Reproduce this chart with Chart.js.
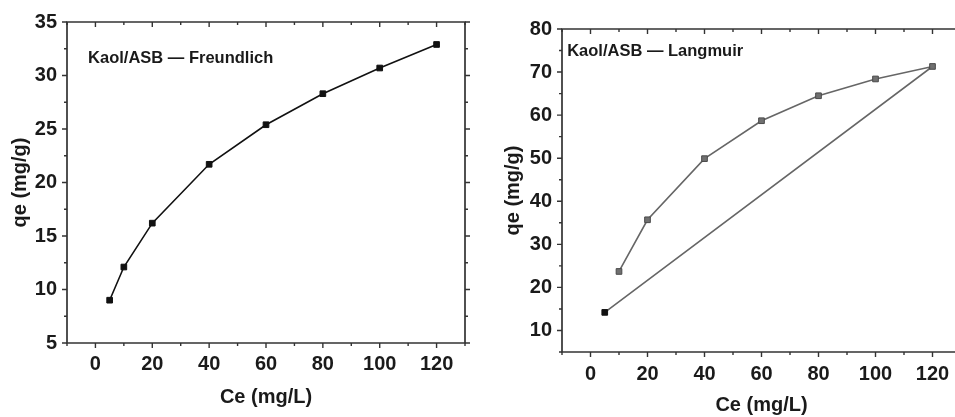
<!DOCTYPE html>
<html><head><meta charset="utf-8">
<script src="https://cdn.jsdelivr.net/npm/chart.js@4"></script>
<style>
html,body{margin:0;padding:0;background:#fff;overflow:hidden;width:955px;height:417px}
#c1{position:absolute;left:0;top:0}
#c2{position:absolute;left:480px;top:0}
</style></head><body>
<canvas id="c1" width="480" height="417"></canvas>
<canvas id="c2" width="500" height="417"></canvas>
<script>
// Freundlich panel
const freCe = [5,10,20,40,60,80,100,120];
const freQe = [9.0,12.1,16.2,21.7,25.4,28.3,30.7,32.9];
// Langmuir panel, kept in the order the original polyline runs (ends back at Ce=5)
const lanCe = [10,20,40,60,80,100,120,5];
const lanQe = [23.7,35.7,49.9,58.7,64.5,68.4,71.3,14.2];
// tick labels
const xTicks = [0,20,40,60,80,100,120];
const freTicks = [5,10,15,20,25,30,35];
const lanTicks = [10,20,30,40,50,60,70,80];

const FONT = "'Liberation Sans', Arial, sans-serif";
const INK = "#1a1a1a";

// frame round the plot + major/minor tick marks (Origin style)
const frame = {
  id:"frame",
  afterDraw(chart, args, o){
    const ctx = chart.ctx, a = chart.chartArea, x = chart.scales.x, y = chart.scales.y;
    ctx.save();
    ctx.strokeStyle = "#333"; ctx.lineWidth = 1.7; ctx.lineCap = "butt";
    ctx.beginPath();
    ctx.rect(a.left, a.top, a.right-a.left, a.bottom-a.top);
    ctx.stroke();
    ctx.lineWidth = 1.4;
    ctx.beginPath();
    for (let v=x.min; v<=x.max+1e-9; v+=o.xMinor) {
      let px = x.getPixelForValue(v);
      let len = (Math.abs(v % o.xMajor) < 1e-9) ? 5 : 3;
      ctx.moveTo(px, a.bottom); ctx.lineTo(px, a.bottom+len);
      ctx.moveTo(px, a.top); ctx.lineTo(px, a.top+len);
    }
    for (let v=y.min; v<=y.max+1e-9; v+=o.yMinor) {
      let py = y.getPixelForValue(v);
      let len = (Math.abs(v % o.yMajor) < 1e-9) ? 5 : 3;
      ctx.moveTo(a.left, py); ctx.lineTo(a.left-len, py);
      ctx.moveTo(a.right, py); ctx.lineTo(a.right+len, py);
    }
    ctx.stroke();
    // panel label
    ctx.fillStyle = INK;
    ctx.font = "bold "+o.size+"px "+FONT;
    ctx.textBaseline = "alphabetic"; ctx.textAlign = "left";
    ctx.fillText(o.text, x.getPixelForValue(o.tx), y.getPixelForValue(o.ty));
    ctx.restore();
  }
};

function makePanel(id, xs, ys, yTicks, ymin, ymax, style){
  let data = xs.map((v,i) => ({x:v, y:ys[i]}));
  return new Chart(document.getElementById(id), {
    type:"scatter",
    data:{ datasets:[{
      data:data, showLine:true, tension:0,
      borderColor:style.line, borderWidth:1.6,
      pointStyle:"rect", pointRadius:4, pointHoverRadius:4,
      pointBackgroundColor:style.fill, pointBorderColor:style.edge, pointBorderWidth:1
    }]},
    options:{
      responsive:false, animation:false, devicePixelRatio:1,
      layout:{ padding:{ top:style.top, right:style.right, left:0, bottom:0 } },
      scales:{
        x:{
          type:"linear", min:-10, max:130,
          afterBuildTicks: s => { s.ticks = xTicks.map(v => ({value:v})); },
          afterFit: s => { s.height = style.xh; },
          grid:{ display:false, drawTicks:false }, border:{ display:false },
          ticks:{ color:INK, font:{family:FONT, size:20, weight:"bold"}, padding:style.xpad, maxRotation:0, autoSkip:false },
          title:{ display:true, text:"Ce (mg/L)", color:INK, font:{family:FONT, size:20, weight:"bold"}, padding:{top:0, bottom:style.xtb} }
        },
        y:{
          type:"linear", min:ymin, max:ymax,
          afterBuildTicks: s => { s.ticks = yTicks.map(v => ({value:v})); },
          afterFit: s => { s.width = style.yw; },
          grid:{ display:false, drawTicks:false }, border:{ display:false },
          ticks:{ color:INK, font:{family:FONT, size:20, weight:"bold"}, padding:10, autoSkip:false },
          title:{ display:true, text:"qe (mg/g)", color:INK, font:{family:FONT, size:20, weight:"bold"}, padding:{top:style.ytp, bottom:0} }
        }
      },
      plugins:{
        legend:{ display:false }, tooltip:{ enabled:false },
        frame:{ xMinor:10, xMajor:20, yMinor:style.yMinor, yMajor:style.yMajor, text:style.label, tx:style.tx, ty:style.ty, size:16.5 }
      }
    },
    plugins:[frame]
  });
}

makePanel("c1", freCe, freQe, freTicks, 5, 35, {
  line:"#111", fill:"#111", edge:"#111",
  top:22, right:15, xh:74, yw:67, xpad:9, xtb:8, ytp:8,
  yMinor:2.5, yMajor:5, label:"Kaol/ASB \u2014 Freundlich", tx:-2.6, ty:31.2
});

makePanel("c2", lanCe, lanQe, lanTicks, 5, 80, {
  line:"#666", fill:["#707070","#707070","#707070","#707070","#707070","#707070","#707070","#111"],
  edge:["#4a4a4a","#4a4a4a","#4a4a4a","#4a4a4a","#4a4a4a","#4a4a4a","#4a4a4a","#111"],
  top:29, right:19, xh:65, yw:82, xpad:10, xtb:0, ytp:21,
  yMinor:5, yMajor:10, label:"Kaol/ASB \u2014 Langmuir", tx:-8.2, ty:73.7
});
</script>
</body></html>
